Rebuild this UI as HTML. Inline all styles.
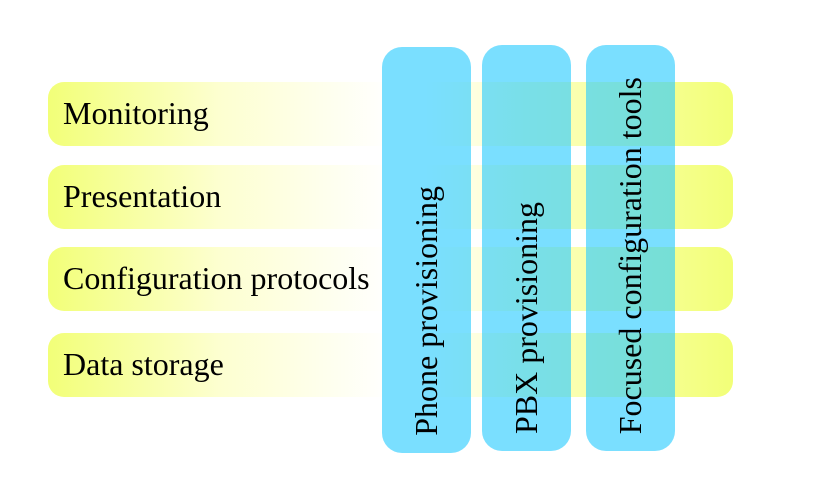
<!DOCTYPE html><html><head><style>
body{margin:0;width:833px;height:490px;background:#fff;position:relative;overflow:hidden;font-family:"Liberation Serif",serif}
.h{position:absolute;left:48px;width:685px;height:64px;border-radius:16px;background:linear-gradient(to right,#f2ff78 0%,#fdffd0 25%,#ffffff 50%,#ffffff 55%,#fdffc0 70%,#f2ff78 100%)}
.h span{position:absolute;left:15px;top:13px;font-size:32px;line-height:36px;color:#000;white-space:nowrap}
.v{position:absolute;width:89px;height:406px;border-radius:20px;background:rgba(44,205,255,0.63)}
.v span{position:absolute;left:26px;bottom:17px;writing-mode:vertical-rl;transform:rotate(180deg);white-space:nowrap;font-size:32px;line-height:36px}
</style></head><body>
<div class="h" style="top:82px"><span>Monitoring</span></div>
<div class="h" style="top:165px"><span>Presentation</span></div>
<div class="h" style="top:247px"><span>Configuration protocols</span></div>
<div class="h" style="top:333px"><span>Data storage</span></div>
<div class="v" style="left:382px;top:47px"><span>Phone provisioning</span></div>
<div class="v" style="left:482px;top:45px"><span>PBX provisioning</span></div>
<div class="v" style="left:586px;top:45px"><span>Focused configuration tools</span></div>
</body></html>
